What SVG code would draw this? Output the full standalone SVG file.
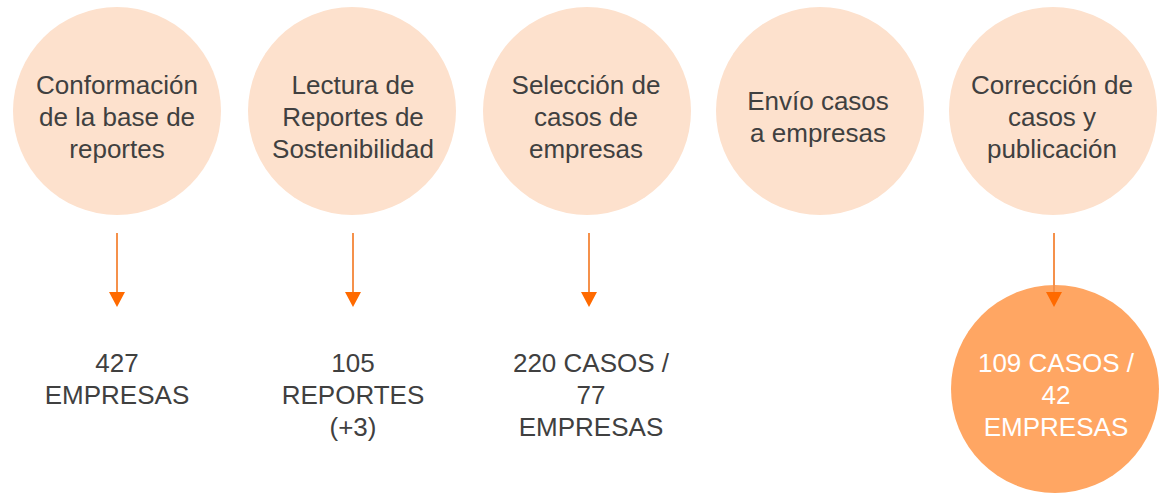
<svg xmlns="http://www.w3.org/2000/svg" width="1161" height="493" viewBox="0 0 1161 493">
<defs>
<style>
.step{fill:#FDE1CD}
.result{fill:#FFA663}
.t{font-family:"Liberation Sans",Arial,sans-serif;font-size:26px;fill:#404040;text-anchor:middle}
.w{fill:#FFFFFF}
.ln{stroke:#F5914B;stroke-width:2;fill:none}
.hd{fill:#FF6A00}
</style>
</defs>
<rect width="1161" height="493" fill="#FFFFFF"/>
<g id="node-conformacion">
<circle class="step" cx="117" cy="111" r="104"/>
<text class="t" x="117" y="94">Conformación</text>
<text class="t" x="117" y="126">de la base de</text>
<text class="t" x="117" y="158">reportes</text>
</g>
<g id="node-lectura">
<circle class="step" cx="352" cy="111" r="104"/>
<text class="t" x="353" y="94">Lectura de</text>
<text class="t" x="353" y="126">Reportes de</text>
<text class="t" x="353" y="158">Sostenibilidad</text>
</g>
<g id="node-seleccion">
<circle class="step" cx="587" cy="111" r="104"/>
<text class="t" x="586" y="94">Selección de</text>
<text class="t" x="586" y="126">casos de</text>
<text class="t" x="586" y="158">empresas</text>
</g>
<g id="node-envio">
<circle class="step" cx="820" cy="111" r="104"/>
<text class="t" x="818" y="110">Envío casos</text>
<text class="t" x="818" y="142">a empresas</text>
</g>
<g id="node-correccion">
<circle class="step" cx="1053" cy="111" r="104"/>
<text class="t" x="1052" y="94">Corrección de</text>
<text class="t" x="1052" y="126">casos y</text>
<text class="t" x="1052" y="158">publicación</text>
</g>
<g id="result-427">
<text class="t" x="117" y="372">427</text>
<text class="t" x="117" y="404">EMPRESAS</text>
</g>
<g id="result-105">
<text class="t" x="353" y="372">105</text>
<text class="t" x="353" y="404">REPORTES</text>
<text class="t" x="353" y="436">(+3)</text>
</g>
<g id="result-220">
<text class="t" x="591" y="372">220 CASOS /</text>
<text class="t" x="591" y="404">77</text>
<text class="t" x="591" y="436">EMPRESAS</text>
</g>
<g id="result-109">
<circle class="result" cx="1055" cy="389" r="104"/>
<text class="t w" x="1056" y="372">109 CASOS /</text>
<text class="t w" x="1056" y="404">42</text>
<text class="t w" x="1056" y="436">EMPRESAS</text>
</g>
<g id="connectors">
<line class="ln" x1="117" y1="233" x2="117" y2="294"/>
<polygon class="hd" points="109,292 125,292 117,307"/>
<line class="ln" x1="353" y1="233" x2="353" y2="294"/>
<polygon class="hd" points="345,292 361,292 353,307"/>
<line class="ln" x1="589" y1="233" x2="589" y2="294"/>
<polygon class="hd" points="581,292 597,292 589,307"/>
<line class="ln" x1="1054" y1="233" x2="1054" y2="294"/>
<polygon class="hd" points="1046,292 1062,292 1054,307"/>
</g>
</svg>
